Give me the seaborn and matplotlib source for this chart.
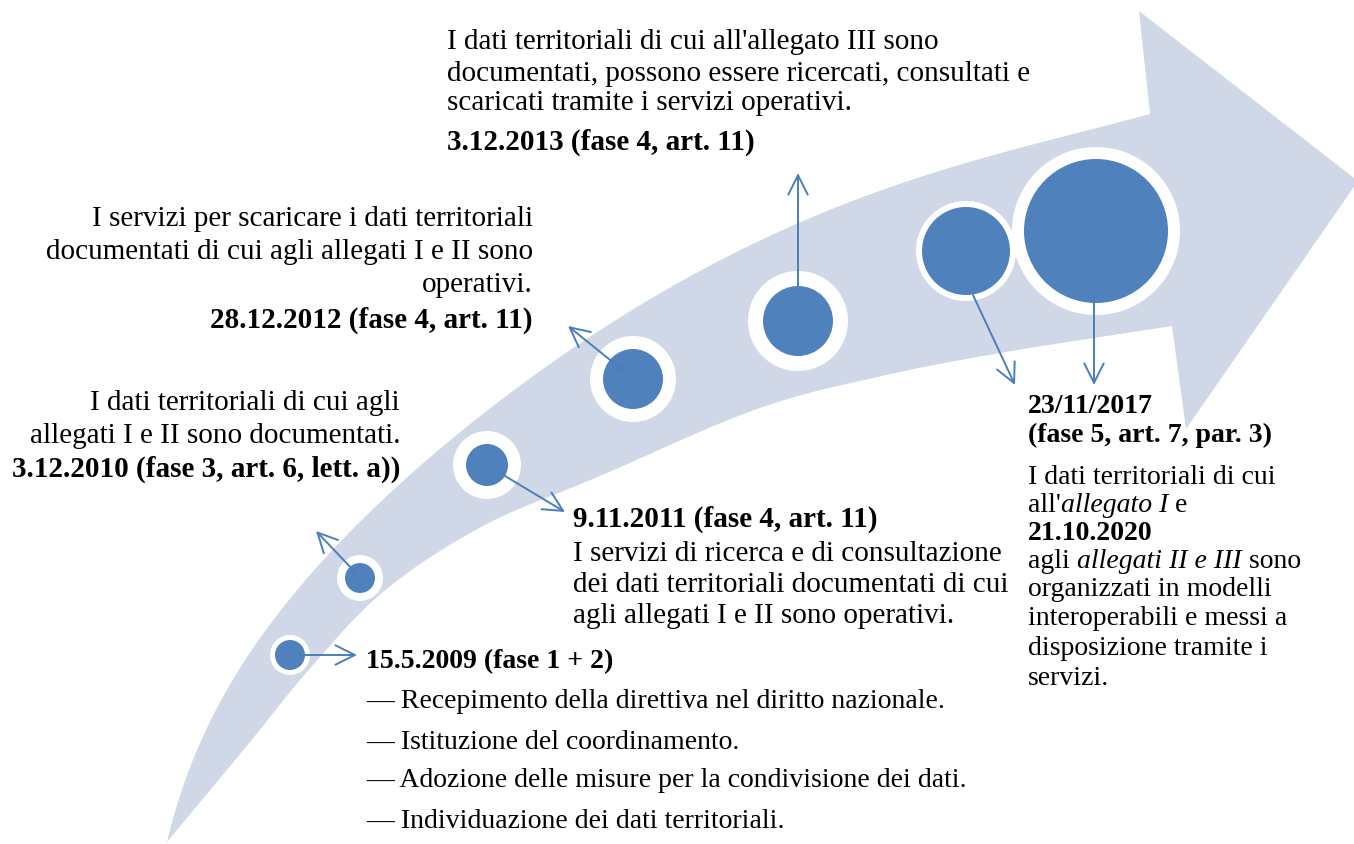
from math import comb

import numpy as np
import pandas as pd
import seaborn as sns
import matplotlib.pyplot as plt

# Pietre miliari della direttiva (coordinate in pixel dell'immagine, y verso il basso)
milestone = ['2009', '2010', '2011', '2012', '2013', '2017', '2020']
circle_x = [290, 360, 487, 633, 798, 966, 1096]
circle_y = [656, 579, 466, 380, 322, 252, 232]
circle_r = [15, 15, 21, 30, 35, 44, 72]
halo_r = [20, 23, 34, 43, 50, 50, 84]

# Frecce di collegamento cerchio -> testo
arrow_x0 = [300, 355, 495, 625, 798, 973, 1094]
arrow_y0 = [656, 573, 471, 373, 287, 296, 303]
arrow_x1 = [357, 316, 565, 568, 798, 1015, 1094]
arrow_y1 = [656, 532, 513, 327, 174, 386, 386]

upper_x = [167, 210, 260, 317, 405, 480, 547, 613, 710, 820, 920, 1020, 1150]
upper_y = [843, 730, 633, 565, 488, 417, 363, 323, 267, 215, 180, 147, 115]
lower_x = [167, 250, 307, 383, 483, 600, 757, 882, 1006, 1172]
lower_y = [843, 743, 673, 593, 527, 477, 410, 377, 353, 327]
head_x = [1139, 1358, 1186]
head_y = [12, 182, 430]

# Testi
text_2013 = ["I dati territoriali di cui all'allegato III sono",
             "documentati, possono essere ricercati, consultati e",
             "scaricati tramite i servizi operativi."]
date_2013 = "3.12.2013 (fase 4, art. 11)"
text_2012 = ["I servizi per scaricare i dati territoriali",
             "documentati di cui agli allegati I e II sono",
             "operativi."]
date_2012 = "28.12.2012 (fase 4, art. 11)"
text_2010 = ["I dati territoriali di cui agli",
             "allegati I e II sono documentati."]
date_2010 = "3.12.2010 (fase 3, art. 6, lett. a))"
date_2011 = "9.11.2011 (fase 4, art. 11)"
text_2011 = ["I servizi di ricerca e di consultazione",
             "dei dati territoriali documentati di cui",
             "agli allegati I e II sono operativi."]
date_2009 = "15.5.2009 (fase 1 + 2)"
text_2009 = ["— Recepimento della direttiva nel diritto nazionale.",
             "— Istituzione del coordinamento.",
             "— Adozione delle misure per la condivisione dei dati.",
             "— Individuazione dei dati territoriali."]
# righe del blocco 2017/2020: (testo, stile)
text_2017 = [[("23/11/2017", 'bold')],
             [("(fase 5, art. 7, par. 3)", 'bold')],
             [("I dati territoriali di cui", 'normal')],
             [("all'", 'normal'), ("allegato I", 'italic'), (" e", 'normal')],
             [("21.10.2020", 'bold')],
             [("agli ", 'normal'), ("allegati II e III", 'italic'), (" sono", 'normal')],
             [("organizzati in modelli", 'normal')],
             [("interoperabili e messi a", 'normal')],
             [("disposizione tramite i", 'normal')],
             [("servizi.", 'normal')]]

BAND = '#D0D8E8'
BLUE = '#4F81BD'
LINE = '#4A7EBB'
FS = 21
FS_SMALL = 20

sns.set_theme(style='white')
plt.rcParams['font.family'] = ['Liberation Serif', 'DejaVu Serif']

fig = plt.figure(figsize=(13.54, 8.45), dpi=100)
ax = fig.add_axes([0, 0, 1, 1])


def bernstein(t, k):
    return np.column_stack([comb(k, i) * t ** i * (1 - t) ** (k - i) for i in range(k + 1)])


def bezier_fit(xs, ys, k=5, n=400, iters=60):
    # curva di Bezier ai minimi quadrati (estremi fissi),
    # con riparametrizzazione sul punto piu' vicino della curva
    p = np.column_stack([xs, ys]).astype(float)
    d = np.r_[0, np.cumsum(np.hypot(*np.diff(p, axis=0).T))]
    t = d / d[-1]
    s = np.linspace(0, 1, 4000)
    for _ in range(iters):
        b = bernstein(t, k)
        rhs = p - np.outer(b[:, 0], p[0]) - np.outer(b[:, -1], p[-1])
        ctrl, *_ = np.linalg.lstsq(b[:, 1:-1], rhs, rcond=None)
        cp = np.vstack([p[0], ctrl, p[-1]])
        curve = bernstein(s, k) @ cp
        dist = ((curve[None, :, :] - p[:, None, :]) ** 2).sum(-1)
        t = s[dist.argmin(axis=1)]
        t[0], t[-1] = 0.0, 1.0
    return bernstein(np.linspace(0, 1, n), k) @ cp


def smooth(xs, ys, n=30):
    # spline di Catmull-Rom attraverso i punti letti
    p = np.column_stack([xs, ys]).astype(float)
    p = np.vstack([2 * p[0] - p[1], p, 2 * p[-1] - p[-2]])
    out = []
    t = np.linspace(0, 1, n, endpoint=False)[:, None]
    for i in range(1, len(p) - 2):
        p0, p1, p2, p3 = p[i - 1], p[i], p[i + 1], p[i + 2]
        out.append(0.5 * (2 * p1 + (-p0 + p2) * t + (2 * p0 - 5 * p1 + 4 * p2 - p3) * t ** 2
                          + (-p0 + 3 * p1 - 3 * p2 + p3) * t ** 3))
    out.append(p[-2][None])
    return np.vstack(out)


up = bezier_fit(upper_x, upper_y)
lo = smooth(lower_x, lower_y)
outline = np.vstack([up, np.column_stack([head_x, head_y]), lo[::-1]])
ax.fill(outline[:, 0], outline[:, 1], color=BAND, lw=0, zorder=1)

# cerchi: alone bianco + disco blu
px2pt = 72 / fig.dpi
df = pd.DataFrame({'milestone': milestone, 'x': circle_x, 'y': circle_y,
                   'r': circle_r, 'halo': halo_r})
sns.scatterplot(data=df, x='x', y='y', s=(2 * df['halo'] * px2pt) ** 2,
                color='white', linewidth=0, ax=ax, zorder=2, legend=False)
sns.scatterplot(data=df, x='x', y='y', s=(2 * df['r'] * px2pt) ** 2,
                color=BLUE, linewidth=0, ax=ax, zorder=3, legend=False)
ax.set_xlim(0, 1354)
ax.set_ylim(845, 0)
ax.axis('off')

for x0, y0, x1, y1 in zip(arrow_x0, arrow_y0, arrow_x1, arrow_y1):
    ax.annotate('', xy=(x1, y1), xytext=(x0, y0), zorder=4,
                arrowprops=dict(arrowstyle='->,head_length=14,head_width=7',
                                mutation_scale=1, color=LINE, lw=1.4,
                                shrinkA=0, shrinkB=0))


def lines(x, ys, txts, ha='left', weight='normal', size=FS):
    for y, s in zip(ys, txts):
        ax.text(x, y, s, ha=ha, va='baseline', fontsize=size, fontweight=weight,
                color='black', zorder=5)


lines(447, [49, 81, 110], text_2013)
lines(447, [150], [date_2013], weight='bold')
lines(533, [226, 259, 292], text_2012, ha='right')
lines(533, [328], [date_2012], ha='right', weight='bold')
lines(400, [410, 443], text_2010, ha='right')
lines(400, [477], [date_2010], ha='right', weight='bold')
lines(573, [527], [date_2011], weight='bold')
lines(573, [561, 592, 623], text_2011)
lines(366, [668], [date_2009], weight='bold', size=FS_SMALL)
lines(366, [708, 749, 787, 828], text_2009, size=FS_SMALL)

# righe con stili misti: si affiancano i pezzi misurandone la larghezza
renderer = fig.canvas.get_renderer()
inv = ax.transData.inverted()


def width(s, **kw):
    t = ax.text(0, 0, s, fontsize=FS_SMALL, **kw)
    w = t.get_window_extent(renderer).width
    t.set_text('||')
    w -= t.get_window_extent(renderer).width
    t.remove()
    return w


ys_2017 = [413, 442, 484, 512, 540, 568, 596, 625, 655, 685]
for y, parts in zip(ys_2017, text_2017):
    xpix = ax.transData.transform((1028, y))[0]
    for s, style in parts:
        kw = {'fontweight': 'bold'} if style == 'bold' else (
            {'fontstyle': 'italic'} if style == 'italic' else {})
        xd = inv.transform((xpix, 0))[0]
        ax.text(xd, y, s, ha='left', va='baseline', fontsize=FS_SMALL,
                color='black', zorder=5, **kw)
        xpix += width('|' + s + '|', **kw)

fig.savefig('out.png', dpi=100)
